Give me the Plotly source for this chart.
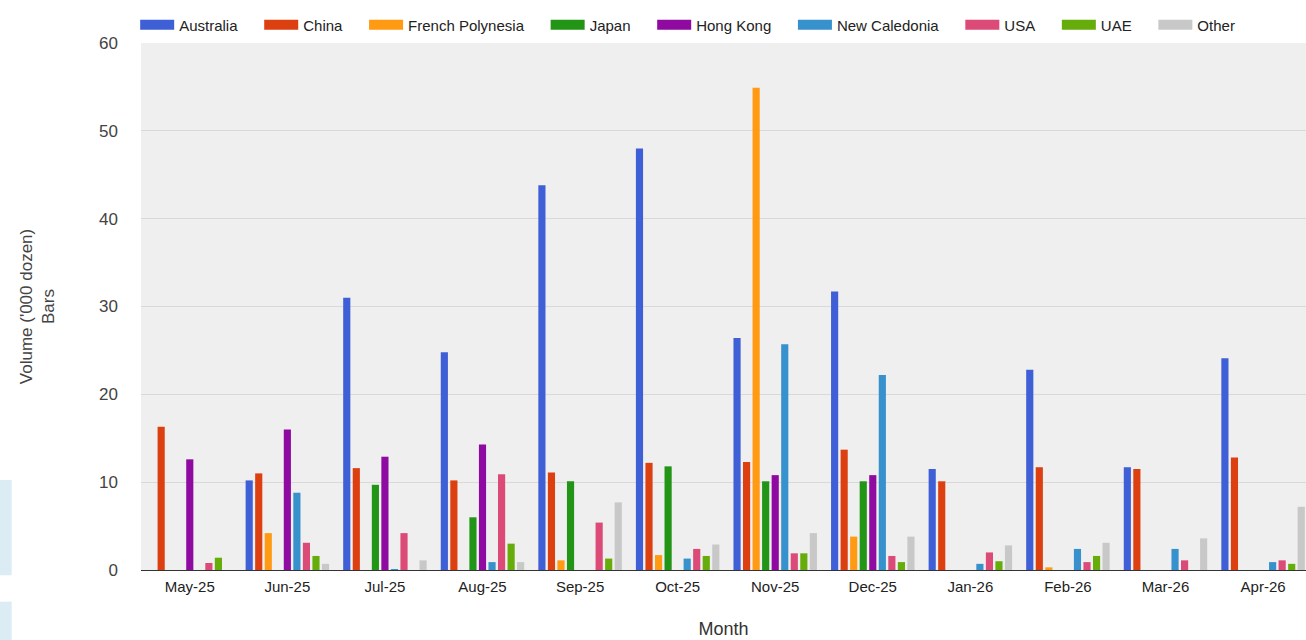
import plotly.graph_objects as go

months = ["May-25", "Jun-25", "Jul-25", "Aug-25", "Sep-25", "Oct-25",
          "Nov-25", "Dec-25", "Jan-26", "Feb-26", "Mar-26", "Apr-26"]

australia = [0, 10.2, 31.0, 24.8, 43.8, 48.0, 26.4, 31.7, 11.5, 22.8, 11.7, 24.1]
china = [16.3, 11.0, 11.6, 10.2, 11.1, 12.2, 12.3, 13.7, 10.1, 11.7, 11.5, 12.8]
french_polynesia = [0, 4.2, 0, 0, 1.1, 1.7, 54.9, 3.8, 0, 0.3, 0, 0]
japan = [0, 0, 9.7, 6.0, 10.1, 11.8, 10.1, 10.1, 0, 0, 0, 0]
hong_kong = [12.6, 16.0, 12.9, 14.3, 0, 0, 10.8, 10.8, 0, 0, 0, 0]
new_caledonia = [0, 8.8, 0.1, 0.9, 0, 1.3, 25.7, 22.2, 0.7, 2.4, 2.4, 0.9]
usa = [0.8, 3.1, 4.2, 10.9, 5.4, 2.4, 1.9, 1.6, 2.0, 0.9, 1.1, 1.1]
uae = [1.4, 1.6, 0, 3.0, 1.3, 1.6, 1.9, 0.9, 1.0, 1.6, 0, 0.7]
other = [0, 0.7, 1.1, 0.9, 7.7, 2.9, 4.2, 3.8, 2.8, 3.1, 3.6, 7.2]

series = [
    ("Australia", australia, "#3f5fd6"),
    ("China", china, "#dc4011"),
    ("French Polynesia", french_polynesia, "#ff9a12"),
    ("Japan", japan, "#229416"),
    ("Hong Kong", hong_kong, "#8e0aa0"),
    ("New Caledonia", new_caledonia, "#3791cc"),
    ("USA", usa, "#dc4a78"),
    ("UAE", uae, "#66ad0b"),
    ("Other", other, "#c8c8c8"),
]

PAD = "\u00a0" * 4  # extra spacing after each legend label

fig = go.Figure()
for name, vals, col in series:
    fig.add_trace(go.Bar(x=months, y=vals, name=name, marker_color=col,
                         marker_line_width=0, legendgroup=name, showlegend=False))
# legend entries drawn as wide rectangular swatches (thick line keys)
for name, vals, col in series:
    fig.add_trace(go.Scatter(x=[None], y=[None], mode="lines", name=name + PAD,
                             line=dict(color=col, width=12), legendgroup=name,
                             hoverinfo="skip"))

fig.update_layout(
    width=1306, height=640,
    margin=dict(l=141, r=0, t=43, b=70),
    paper_bgcolor="white",
    plot_bgcolor="#efefef",
    barmode="group",
    bargap=0.12,
    bargroupgap=0.25,
    font=dict(family="Liberation Sans, Arial, sans-serif", color="#333"),
    legend=dict(orientation="h", x=-0.005, xanchor="left", y=1.034, yanchor="middle",
                font=dict(size=15, color="#222"), bgcolor="rgba(0,0,0,0)",
                itemwidth=34),
    xaxis=dict(range=[-0.5, 11.44], showline=True, linecolor="#333", linewidth=1,
               tickfont=dict(size=15, color="#222"), ticks="", ticklabelstandoff=3,
               title=dict(text="Month", font=dict(size=18, color="#333"), standoff=28)),
    yaxis=dict(range=[0, 60], dtick=10, gridcolor="#d9d9d9", gridwidth=1,
               zeroline=False, tickfont=dict(size=17, color="#444"),
               ticklabelstandoff=22,
               title=dict(text="Volume ('000 dozen)<br>Bars",
                          font=dict(size=17, color="#444"), standoff=40)),
    shapes=[
        dict(type="rect", xref="paper", yref="paper", x0=-0.121, x1=-0.111,
             y0=-0.01, y1=0.171, fillcolor="#dcecf4", line_width=0, layer="below"),
        dict(type="rect", xref="paper", yref="paper", x0=-0.121, x1=-0.111,
             y0=-0.133, y1=-0.06, fillcolor="#dcecf4", line_width=0, layer="below"),
    ],
)

fig.write_html("out.html")
